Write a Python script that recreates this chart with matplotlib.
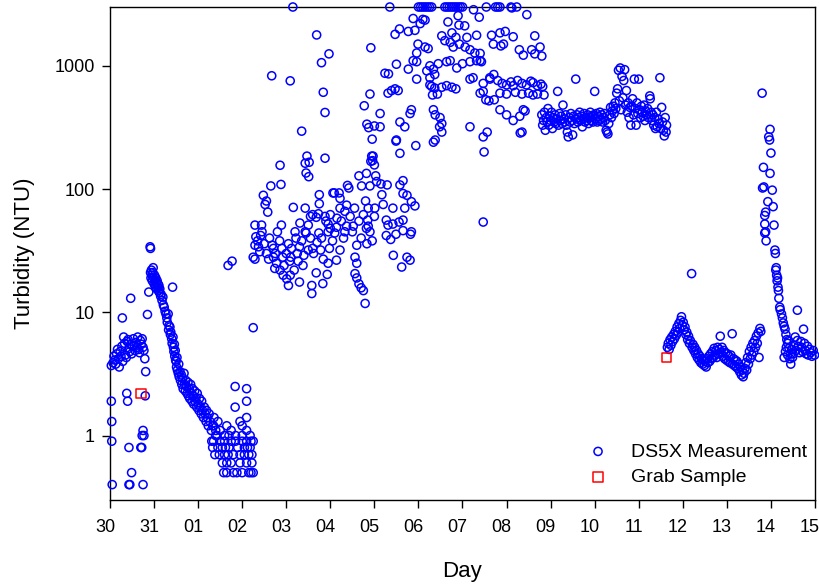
import matplotlib
matplotlib.use("Agg")
import matplotlib.pyplot as plt
from matplotlib.ticker import FixedLocator, NullLocator
from matplotlib.transforms import ScaledTranslation

plt.rcParams['font.family'] = ['Liberation Sans', 'DejaVu Sans']

# Day axis: 0 = the 30th, 16 = the 15th
day_labels = ['30', '31', '01', '02', '03', '04', '05', '06', '07', '08',
              '09', '10', '11', '12', '13', '14', '15']

seg_start = [
    (0.03, 3.7), (0.03, 1.9), (0.04, 1.3), (0.04, 0.9), (0.05, 0.4),
    (0.07, 3.9), (0.09, 4.4), (0.11, 4.1), (0.13, 3.8), (0.15, 4.6), (0.17, 5.0),
    (0.19, 4.2), (0.21, 3.6), (0.23, 4.8), (0.25, 4.4), (0.27, 5.3), (0.29, 4.0),
    (0.31, 6.3), (0.33, 5.6), (0.35, 4.5), (0.37, 4.3), (0.39, 5.8), (0.41, 6.0),
    (0.43, 5.1), (0.45, 4.8), (0.47, 5.5), (0.49, 4.6), (0.51, 5.3), (0.53, 6.1),
    (0.55, 5.4), (0.57, 4.9), (0.59, 5.7), (0.61, 5.2), (0.63, 6.3), (0.65, 5.0),
    (0.67, 4.7), (0.69, 5.9), (0.71, 5.5), (0.73, 6.1), (0.75, 5.2), (0.77, 4.9),
    (0.79, 4.2), (0.28, 9.0), (0.47, 13.0), (0.38, 2.2), (0.40, 1.9), (0.43, 0.8),
    (0.43, 0.4), (0.49, 0.5), (0.45, 0.4), (0.70, 0.8), (0.72, 0.8), (0.75, 0.4),
    (0.73, 1.0), (0.77, 1.0), (0.75, 1.1), (0.80, 2.1), (0.81, 3.3), (0.85, 9.6),
    (0.88, 14.6), (0.91, 34), (0.92, 33),
]

seg_decline = [
    (0.92, 21), (0.93, 19), (0.94, 22), (0.95, 20), (0.96, 18), (0.97, 21),
    (0.98, 23), (0.99, 19), (1.00, 17), (1.01, 20), (1.02, 18), (1.03, 16),
    (1.04, 19), (1.05, 17), (1.06, 15.5), (1.07, 18), (1.08, 16), (1.09, 17),
    (1.10, 15), (1.11, 16.5), (1.12, 14.5), (1.13, 15.5), (1.15, 13.5), (1.16, 14),
    (1.18, 12.5), (1.20, 13.3), (1.21, 11.5), (1.23, 11), (1.25, 10.2), (1.27, 9.7),
    (1.29, 9.0), (1.30, 8.3), (1.32, 9.7), (1.33, 7.2), (1.34, 7.8), (1.36, 7.6),
    (1.37, 6.6), (1.38, 6.9), (1.40, 6.1), (1.41, 5.6), (1.42, 16), (1.43, 6.3),
    (1.44, 5.2), (1.45, 4.8), (1.46, 5.5), (1.47, 4.4), (1.48, 4.9), (1.49, 4.1),
    (1.50, 4.0), (1.51, 3.6), (1.52, 4.3), (1.53, 3.4), (1.55, 3.2), (1.56, 3.8),
    (1.57, 3.0), (1.59, 3.3), (1.60, 2.8), (1.62, 3.1), (1.63, 2.6), (1.65, 2.9),
    (1.66, 2.4), (1.68, 3.2), (1.69, 2.6), (1.71, 2.3), (1.72, 2.8), (1.74, 2.5),
    (1.75, 2.2), (1.77, 2.7), (1.78, 2.1), (1.80, 2.4), (1.81, 2.0), (1.83, 2.6),
    (1.84, 2.2), (1.86, 1.9), (1.87, 2.4), (1.89, 2.1), (1.90, 1.8), (1.92, 2.3),
    (1.93, 1.9), (1.95, 2.0), (1.97, 1.7), (1.98, 2.2), (2.00, 1.8), (2.02, 1.6),
    (2.03, 2.0), (2.05, 1.7), (2.07, 1.5), (2.08, 1.9), (2.10, 1.6), (2.12, 1.4),
    (2.14, 1.7), (2.16, 1.5), (2.18, 1.3), (2.19, 1.6), (2.21, 1.4), (2.23, 1.2),
    (2.25, 1.5), (2.27, 1.3), (2.30, 1.1), (2.33, 1.2), (2.36, 1.4), (2.40, 1.1),
    (2.43, 1.0), (2.45, 1.3),
]

seg_low = [
    (2.31, 0.9), (2.35, 0.9), (2.50, 0.9), (2.60, 0.9), (2.75, 0.9), (2.85, 0.9),
    (3.00, 0.9), (3.10, 0.9), (3.20, 0.9), (3.25, 0.9),
    (2.33, 0.8), (2.45, 0.8), (2.55, 0.8), (2.62, 0.8), (2.70, 0.8), (2.90, 0.8),
    (3.05, 0.8), (3.12, 0.8), (3.18, 0.8),
    (2.38, 0.7), (2.48, 0.7), (2.60, 0.7), (2.68, 0.7), (2.80, 0.7), (2.95, 0.7),
    (3.05, 0.7), (3.15, 0.7), (3.22, 0.7),
    (2.55, 0.6), (2.75, 0.6), (2.95, 0.6), (3.10, 0.6), (3.22, 0.6), (2.65, 0.6),
    (2.58, 0.5), (2.65, 0.5), (2.80, 0.5), (3.00, 0.5), (3.15, 0.5), (3.20, 0.5),
    (3.25, 0.5), (2.88, 0.5),
    (2.40, 1.0), (2.60, 1.0), (2.70, 1.0), (2.85, 1.0), (3.00, 1.0), (3.18, 1.0),
    (2.50, 1.1), (2.75, 1.1), (3.10, 1.1), (2.35, 1.2), (2.65, 1.2), (3.00, 1.2),
    (2.84, 2.5), (3.10, 2.4), (2.84, 1.7), (3.10, 1.9), (3.10, 1.4), (2.95, 1.3),
    (2.68, 24), (2.77, 26),
]

seg_cloud = [
    (4.47, 185), (4.88, 178), (3.86, 156), (4.43, 162), (4.45, 135), (4.51, 126),
    (3.65, 106), (3.88, 109), (5.94, 185), (5.96, 170), (6.00, 157), (5.65, 128),
    (5.82, 134), (6.03, 128), (6.05, 115), (5.39, 107), (5.71, 106), (5.90, 106),
    (5.09, 93), (5.20, 93), (4.75, 90), (4.75, 76), (3.48, 89), (3.52, 75), (5.22, 84),
    (4.16, 71), (4.43, 70), (4.60, 62), (4.68, 59), (4.55, 60), (4.73, 63), (4.88, 60),
    (5.00, 62), (5.22, 70), (5.37, 74), (5.33, 66), (5.86, 70), (6.01, 70),
    (3.89, 51), (3.29, 51), (3.44, 51), (4.31, 53), (4.95, 52), (4.50, 51), (5.14, 49),
    (5.37, 50), (5.52, 50), (5.82, 48), (5.86, 50),
    (3.31, 41), (3.42, 42), (4.20, 45), (4.43, 45), (4.74, 44), (4.95, 45), (5.10, 44),
    (5.33, 45), (5.60, 35), (5.83, 36),
    (3.29, 35), (3.37, 34), (3.71, 33), (3.90, 33), (4.12, 33), (4.30, 34), (4.50, 32),
    (4.60, 33), (4.78, 32), (4.98, 33), (5.22, 32), (5.14, 26.5),
    (3.25, 28), (3.29, 27), (3.71, 28), (3.78, 25), (3.92, 28), (4.08, 26), (4.27, 26),
    (4.38, 24), (4.84, 27), (4.95, 25), (5.56, 28), (5.60, 25),
    (3.74, 22.7), (3.86, 22), (3.93, 20), (4.01, 18.7), (4.09, 20), (4.05, 16.5),
    (4.30, 17.6), (4.58, 16.5), (4.58, 14.2), (4.68, 20.9), (4.83, 17.1), (4.93, 20.3),
    (5.56, 20.6), (5.60, 19), (5.65, 17), (5.70, 15.8), (5.75, 15), (5.79, 11.8),
    (3.25, 7.5),
    (3.35, 38), (3.40, 31), (3.45, 45), (3.50, 36), (3.55, 30), (3.60, 27), (3.62, 40),
    (3.68, 35), (3.75, 30), (3.80, 45), (3.85, 38), (3.95, 24), (4.00, 30), (4.05, 36),
    (4.10, 28), (4.18, 22), (4.22, 40), (4.25, 30), (4.35, 38), (4.40, 29), (4.45, 44),
    (4.55, 40), (4.62, 30), (4.70, 37), (4.80, 40), (4.90, 55), (5.00, 48), (5.05, 38),
    (5.15, 58), (5.25, 55), (5.30, 40), (5.45, 60), (5.50, 45), (5.55, 70), (5.65, 55),
    (5.70, 40), (5.75, 62), (5.80, 80), (5.85, 56), (5.90, 45), (5.95, 38), (6.00, 60),
    (3.67, 830), (4.09, 755), (4.15, 3000), (4.35, 295), (4.69, 1780), (4.80, 1060),
    (4.84, 610), (4.88, 418), (4.97, 1250), (5.77, 474), (5.90, 590), (5.92, 1400),
    (5.83, 336), (5.87, 315), (6.00, 325), (5.95, 254), (5.97, 185), (5.92, 168),
    (4.52, 165), (5.42, 102), (5.06, 93), (3.55, 80), (3.58, 65),
]

seg_high = [
    (6.35, 3000), (7.00, 3000), (7.05, 3000), (7.10, 3000), (7.15, 3000), (7.20, 3000),
    (7.25, 3000), (7.30, 3000), (7.60, 3000), (7.65, 3000), (7.70, 3000), (7.75, 3000),
    (7.80, 3000), (7.85, 3000), (7.90, 3000), (7.95, 3000), (8.00, 3000), (8.54, 3000),
    (8.75, 3000), (8.80, 3000), (8.85, 3000), (9.10, 3000), (9.23, 3000), (9.12, 2950),
    (6.88, 2420), (7.10, 2380), (7.90, 2550), (8.25, 2850), (8.38, 2480), (9.46, 2600),
    (6.47, 1800), (6.57, 1990), (6.77, 1900), (6.92, 1940), (7.04, 2200), (7.15, 2350),
    (7.67, 2270), (7.92, 2140), (8.05, 2110), (7.53, 1750), (7.76, 1850), (7.85, 1700),
    (8.10, 1700), (8.32, 1770), (8.66, 1770), (8.85, 1850), (8.97, 1900), (9.15, 1720),
    (9.64, 1750),
    (6.99, 1500), (7.15, 1420), (7.22, 1380), (6.96, 1270), (7.79, 1420), (7.93, 1500),
    (7.60, 1600), (7.72, 1550), (8.06, 1420), (8.17, 1350), (8.28, 1270), (8.40, 1260),
    (8.32, 1100), (8.43, 1080), (8.70, 1500), (8.87, 1450), (8.93, 1500), (9.29, 1350),
    (9.38, 1220), (9.57, 1350), (9.64, 1250), (9.76, 1420), (9.80, 1200),
    (6.24, 870), (6.50, 1030), (6.77, 940), (6.96, 780), (6.88, 1100), (6.96, 1080),
    (7.26, 1000), (7.45, 1040), (7.64, 1080), (7.72, 1100), (7.87, 960), (8.00, 1040),
    (8.17, 1080), (7.19, 910), (7.34, 940), (7.26, 800), (7.37, 850), (7.26, 700),
    (7.30, 680), (7.37, 660), (7.53, 670), (7.64, 690), (7.76, 670), (7.85, 650),
    (6.31, 600), (6.39, 630), (6.47, 650), (6.54, 630), (7.32, 580), (7.43, 590),
    (8.17, 780), (8.24, 800), (8.40, 1100), (8.47, 720), (8.62, 800), (8.71, 850),
    (8.40, 600), (8.47, 620), (8.53, 530),
    (8.62, 780), (8.80, 760), (8.90, 720), (9.00, 700), (9.10, 740), (9.15, 690),
    (9.25, 760), (9.35, 720), (9.45, 700), (9.55, 750), (9.60, 730), (9.70, 690),
    (9.78, 710), (9.82, 680),
    (8.85, 600), (9.00, 590), (9.20, 610), (9.35, 590), (9.50, 600), (9.60, 580),
    (9.70, 590), (9.85, 580), (8.60, 520), (8.72, 530),
    (8.85, 440), (9.00, 400), (9.15, 360), (9.30, 390), (9.38, 440), (9.42, 430),
    (9.31, 285), (9.35, 290),
    (8.17, 320), (8.47, 265), (8.56, 290), (8.49, 200), (8.47, 54),
    (7.34, 440), (7.38, 400), (7.49, 380), (7.53, 340), (7.48, 320), (7.53, 290),
    (7.38, 250), (7.34, 240),
    (6.84, 440), (6.81, 410), (6.58, 350), (6.69, 320), (6.49, 245), (6.58, 195),
    (6.94, 225), (6.13, 410), (6.13, 320), (6.32, 860), (6.50, 250),
    (6.29, 108), (6.58, 108), (6.65, 117), (6.65, 92), (6.74, 89), (6.84, 79),
    (6.92, 73), (6.42, 70), (6.69, 70), (6.15, 110), (6.17, 90), (6.20, 75),
    (6.27, 56), (6.31, 51), (6.42, 52), (6.56, 54), (6.65, 56), (6.65, 46),
    (6.84, 45), (6.82, 43), (6.27, 42), (6.37, 39), (6.49, 43), (6.43, 29),
    (6.74, 28), (6.81, 26.5), (6.62, 23.3),
]

seg_plateau = [
    (9.80, 400), (9.82, 330), (9.84, 360), (9.86, 420), (9.88, 300), (9.90, 380),
    (9.92, 350), (9.94, 450), (9.96, 330), (9.98, 390), (10.00, 360), (10.02, 420),
    (10.04, 310), (10.06, 380), (10.08, 350), (10.10, 400), (10.12, 340), (10.14, 370),
    (10.16, 620), (10.18, 330), (10.20, 410), (10.22, 360), (10.24, 390), (10.26, 340),
    (10.28, 480), (10.30, 370), (10.32, 350), (10.34, 400), (10.36, 330), (10.38, 290),
    (10.40, 265), (10.42, 380), (10.44, 350), (10.46, 410), (10.48, 360), (10.50, 275),
    (10.52, 390), (10.54, 340), (10.57, 780), (10.58, 370), (10.60, 400), (10.62, 350),
    (10.64, 380), (10.66, 420), (10.68, 360), (10.70, 390), (10.72, 320), (10.74, 370),
    (10.76, 410), (10.78, 350), (10.80, 380), (10.82, 360), (10.84, 400), (10.86, 340),
    (10.88, 380), (10.90, 420), (10.92, 360), (10.94, 390), (10.96, 350), (10.98, 400),
    (11.00, 620), (11.02, 370), (11.04, 410), (11.06, 350), (11.08, 390), (11.10, 360),
    (11.12, 420), (11.14, 370), (11.16, 400), (11.18, 350), (11.20, 380), (11.22, 410),
    (11.24, 360), (11.26, 300), (11.28, 290), (11.30, 280), (11.32, 340), (11.34, 400),
    (11.36, 460), (11.38, 380), (11.40, 430), (11.42, 470), (11.44, 410), (11.46, 500),
    (11.48, 450), (11.50, 600), (11.52, 650), (11.54, 920), (11.56, 520), (11.58, 960),
    (11.60, 440), (11.62, 820), (11.64, 550), (11.66, 760), (11.68, 930), (11.70, 480),
    (11.72, 630), (11.74, 420), (11.76, 500), (11.78, 380), (11.80, 460), (11.82, 330),
    (11.84, 470), (11.86, 540), (11.88, 400), (11.90, 780), (11.92, 450), (11.94, 330),
    (11.96, 500), (11.98, 410), (12.00, 780), (12.02, 440), (12.04, 380), (12.06, 470),
    (12.08, 420), (12.10, 390), (12.12, 480), (12.14, 360), (12.16, 430), (12.18, 400),
    (12.20, 450), (12.22, 380), (12.25, 570), (12.26, 540), (12.28, 420), (12.30, 360),
    (12.32, 400), (12.34, 330), (12.36, 380), (12.38, 310), (12.40, 420), (12.42, 320),
    (12.44, 370), (12.46, 340), (12.48, 800), (12.50, 310), (12.52, 460), (12.54, 350),
    (12.56, 300), (12.58, 270), (12.60, 380), (12.62, 290), (12.63, 330),
]

seg_recovery = [
    (12.65, 5.2), (12.67, 5.6), (12.69, 5.0), (12.71, 6.0), (12.73, 5.4), (12.75, 6.3),
    (12.77, 5.8), (12.79, 6.6), (12.81, 6.1), (12.83, 7.0), (12.85, 6.5), (12.87, 7.6),
    (12.89, 6.9), (12.91, 8.1), (12.93, 7.4), (12.95, 8.6), (12.97, 9.2), (12.99, 7.8),
    (13.01, 8.3), (13.03, 7.2), (13.05, 7.6), (13.07, 6.6), (13.09, 6.9), (13.11, 6.0),
    (13.13, 6.4), (13.15, 5.6), (13.17, 5.9), (13.20, 20.6), (13.21, 5.2), (13.23, 5.5),
    (13.25, 4.9), (13.27, 5.2), (13.29, 4.6), (13.31, 4.9), (13.33, 4.3), (13.35, 4.6),
    (13.37, 4.1), (13.39, 4.4), (13.41, 3.9), (13.43, 4.2), (13.45, 3.8), (13.47, 4.1),
    (13.49, 3.7), (13.51, 4.0), (13.53, 3.6), (13.55, 4.2), (13.57, 3.9), (13.59, 4.4),
    (13.61, 4.0), (13.63, 4.6), (13.65, 4.2), (13.67, 4.8), (13.69, 4.3), (13.71, 5.1),
    (13.73, 4.5), (13.75, 4.9), (13.77, 4.3), (13.79, 5.2), (13.81, 4.6), (13.83, 5.0),
    (13.85, 6.4), (13.87, 4.7), (13.89, 5.2), (13.91, 4.4), (13.93, 4.9), (13.95, 4.2),
    (13.97, 4.7), (13.99, 4.1), (14.01, 4.6), (14.03, 4.0), (14.05, 4.4), (14.07, 3.9),
    (14.09, 4.5), (14.12, 6.7), (14.13, 3.8), (14.15, 4.2), (14.17, 3.7), (14.19, 4.1),
    (14.21, 3.6), (14.23, 4.0), (14.25, 3.5), (14.27, 3.8), (14.29, 3.3), (14.31, 3.6),
    (14.33, 3.1), (14.35, 3.4), (14.37, 3.0), (14.39, 3.2), (14.41, 3.5), (14.43, 3.9),
    (14.45, 3.4), (14.47, 4.3), (14.49, 3.8), (14.51, 4.8), (14.53, 4.2), (14.55, 5.2),
    (14.57, 4.5), (14.59, 5.6), (14.61, 4.8), (14.63, 5.9), (14.65, 5.2), (14.67, 6.4),
    (14.69, 5.6), (14.71, 6.8), (14.73, 4.3), (14.75, 7.4), (14.77, 7.0),
]

seg_spike = [
    (14.80, 600), (14.98, 305), (14.97, 250), (14.95, 265), (15.00, 196),
    (14.83, 150), (14.98, 134), (14.81, 102), (14.84, 104), (15.03, 98),
    (14.93, 79), (15.05, 72), (14.86, 61), (14.88, 65), (15.07, 51), (14.86, 52),
    (14.86, 44), (14.89, 38), (14.88, 45), (15.09, 32), (15.10, 30), (15.11, 22),
    (15.12, 23), (15.13, 20), (15.14, 18), (15.15, 19), (15.16, 16), (15.17, 15),
    (15.18, 13), (15.20, 11), (15.21, 10.5), (15.24, 9.7), (15.26, 9.0),
    (15.28, 8.2), (15.30, 7.7), (15.32, 7.3), (15.34, 6.6), (15.36, 6.0),
    (15.38, 5.6), (15.41, 5.1), (15.45, 4.6), (15.49, 4.3),
]

seg_end = [
    (15.30, 4.3), (15.33, 4.8), (15.35, 5.2), (15.38, 4.5), (15.40, 5.9), (15.43, 4.2),
    (15.45, 3.8), (15.47, 5.0), (15.50, 4.6), (15.52, 5.4), (15.55, 6.3), (15.57, 4.9),
    (15.60, 5.9), (15.60, 10.4), (15.62, 5.3), (15.65, 4.7), (15.68, 5.8), (15.70, 5.2),
    (15.72, 4.8), (15.74, 7.3), (15.76, 5.6), (15.78, 4.9), (15.80, 4.6), (15.83, 5.3),
    (15.85, 4.5), (15.88, 5.0), (15.90, 4.7), (15.93, 4.4), (15.96, 4.9), (15.99, 4.5),
]

grab_day = [0.70, 12.63]
grab_ntu = [2.2, 4.3]

segments = [seg_start, seg_decline, seg_low, seg_cloud, seg_high,
            seg_plateau, seg_recovery, seg_spike, seg_end]
ds5x_day = [d for seg in segments for d, v in seg]
ds5x_ntu = [v for seg in segments for d, v in seg]

fig = plt.figure(figsize=(8.2, 5.86), dpi=100)
ax = fig.add_axes([110 / 820, 1 - 500 / 586, 705 / 820, 493 / 586])

ax.scatter(ds5x_day, ds5x_ntu, s=34, facecolors='none', edgecolors='#0000FF',
           linewidths=1.1, clip_on=False, zorder=3, label='DS5X Measurement')
ax.scatter(grab_day, grab_ntu, s=48, marker='s', facecolors='none', edgecolors='#FF0000',
           linewidths=1.1, clip_on=False, zorder=4, label='Grab Sample')

ax.set_yscale('log')
ax.set_ylim(0.3, 3000)
ax.set_xlim(0, 16)
ax.yaxis.set_major_locator(FixedLocator([1, 10, 100, 1000]))
ax.yaxis.set_minor_locator(NullLocator())
ax.set_yticklabels(['1', '10', '100', '1000'])
ax.set_xticks(range(17))
ax.set_xticklabels(day_labels)
ax.tick_params(direction='out', length=6, width=1, labelsize=13)
ax.tick_params(axis='x', pad=8)
ax.tick_params(axis='y', pad=5)

# day labels sit a few pixels left of their ticks in the original
shift = ScaledTranslation(-5 / 100, 0, fig.dpi_scale_trans)
for lab in ax.get_xticklabels():
    lab.set_transform(lab.get_transform() + shift)

ax.set_xlabel('Day', fontsize=16, labelpad=18)
ax.set_ylabel('Turbidity (NTU)', fontsize=16, labelpad=14)

for s in ax.spines.values():
    s.set_linewidth(1.0)

ax.legend(loc='lower right', bbox_to_anchor=(1.0, 0.012), frameon=False, fontsize=14,
          handletextpad=0.7, borderaxespad=0.0, labelspacing=0.42, scatterpoints=1)

fig.savefig('out.png', dpi=100)
